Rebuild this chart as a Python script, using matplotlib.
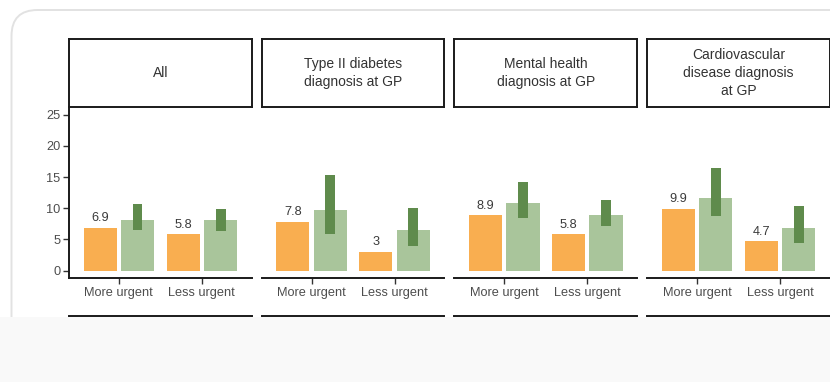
import matplotlib
matplotlib.use("Agg")
import matplotlib.pyplot as plt
from matplotlib.patches import FancyBboxPatch, Rectangle
import numpy as np

plt.rcParams['font.family'] = ['Liberation Sans', 'DejaVu Sans']

# data
panels = ["All", "Type II diabetes\ndiagnosis at GP", "Mental health\ndiagnosis at GP",
          "Cardiovascular\ndisease diagnosis\nat GP"]
urgency = ["More urgent", "Less urgent"]
observed = [[6.9, 5.8], [7.8, 3.0], [8.9, 5.8], [9.9, 4.7]]
expected = [[8.1, 8.1], [9.7, 6.5], [10.8, 8.9], [11.7, 6.9]]
expected_lo = [[6.5, 6.3], [5.9, 4.0], [8.5, 7.2], [8.8, 4.4]]
expected_hi = [[10.6, 9.8], [15.3, 10.1], [14.2, 11.3], [16.5, 10.4]]
yticks = [0, 5, 10, 15, 20, 25]

ORANGE = "#f9ae50"
LIGHT_GREEN = "#a9c59b"
DARK_GREEN = "#5f8b4c"

W, H = 830, 382
fig = plt.figure(figsize=(W / 100, H / 100), dpi=100, facecolor="white")


def box(x0, y0, x1, y1):
    # pixel box (top-left origin) -> figure fraction rect
    return [x0 / W, 1 - y1 / H, (x1 - x0) / W, (y1 - y0) / H]


# card background
card = FancyBboxPatch((11.5 / 100, (H - 420) / 100), 9.5, (420 - 10) / 100,
                      boxstyle="round,pad=0,rounding_size=0.26",
                      transform=fig.dpi_scale_trans, facecolor="white",
                      edgecolor="#e2e2e2", linewidth=1.4, zorder=-5)
fig.patches.append(card)

panel_w = 182.7
step = 192.7
strip_top, strip_bot, axis_y = 38.5, 107.0, 278.3
x = np.arange(1, len(urgency) + 1)

for i, title in enumerate(panels):
    x0 = 69 + i * step
    x1 = x0 + panel_w

    # facet strip
    sax = fig.add_axes(box(x0, strip_top, x1, strip_bot))
    sax.set_xticks([])
    sax.set_yticks([])
    for sp in sax.spines.values():
        sp.set_linewidth(1.4)
        sp.set_color("#1a1a1a")
    sax.text(0.5, 0.5, title, ha="center", va="center", fontsize=10,
             color="#333333", linespacing=1.38, transform=sax.transAxes)

    ax = fig.add_axes(box(x0, strip_bot, x1, axis_y))
    ax.set_facecolor("none")
    obs = np.array(observed[i])
    exp_ = np.array(expected[i])
    lo = np.array(expected_lo[i])
    hi = np.array(expected_hi[i])

    ax.bar(x - 0.225, obs, width=0.4, color=ORANGE)
    ax.bar(x + 0.225, exp_, width=0.4, color=LIGHT_GREEN)
    ax.bar(x + 0.225, hi - lo, bottom=lo, width=0.12, color=DARK_GREEN)
    for xi, v in zip(x, obs):
        ax.annotate(f"{v:g}", (xi - 0.225, v), xytext=(0, 2.5),
                    textcoords="offset points", ha="center", va="bottom",
                    fontsize=9.2, color="#3a3a3a")

    ax.set_xlim(0.4, 2.6)
    ax.set_ylim(-1.25, 26.25)
    ax.set_xticks(x)
    ax.set_xticklabels(urgency, fontsize=9.2, color="#4d4d4d")
    ax.spines["top"].set_visible(False)
    ax.spines["right"].set_visible(False)
    ax.spines["bottom"].set_linewidth(1.4)
    ax.spines["bottom"].set_color("#1a1a1a")
    ax.tick_params(axis="x", length=4, width=1, color="#333333", pad=2.5)
    if i == 0:
        ax.spines["left"].set_linewidth(1.4)
        ax.spines["left"].set_color("#1a1a1a")
        ax.set_yticks(yticks)
        ax.set_yticklabels([str(t) for t in yticks], fontsize=9.2, color="#4d4d4d")
        ax.tick_params(axis="y", length=4, width=1, color="#333333", pad=2)
    else:
        ax.spines["left"].set_visible(False)
        ax.set_yticks([])

    # top edge of the next row's strip
    fig.patches.append(Rectangle((x0 / W, 1 - 340 / H), panel_w / W, 24.3 / H,
                                 transform=fig.transFigure, facecolor="white",
                                 edgecolor="#1a1a1a", linewidth=1.4, zorder=5))

# page below the card
fig.patches.append(Rectangle((0, 0), 1, 1 - 317 / H, transform=fig.transFigure,
                             facecolor="#f9f9f9", edgecolor="none", zorder=10))

fig.savefig("out.png", dpi=100)
